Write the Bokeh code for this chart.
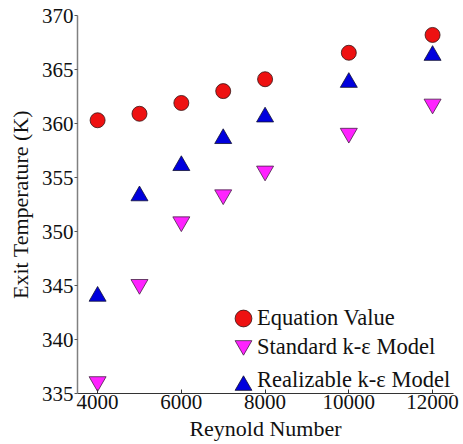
from bokeh.plotting import figure
from bokeh.models import FixedTicker, Legend, LegendItem, Range1d
from bokeh.embed import file_html
from bokeh.resources import INLINE

reynolds = [4000, 5000, 6000, 7000, 8000, 10000, 12000]
equation_value = [360.3, 360.9, 361.9, 363.0, 364.1, 366.55, 368.2]
standard_ke = [336.1, 345.1, 350.9, 353.4, 355.6, 359.1, 361.8]
realizable_ke = [344.0, 353.3, 356.1, 358.6, 360.6, 363.8, 366.3]

x_ticks = [4000, 6000, 8000, 10000, 12000]
y_ticks = [335, 340, 345, 350, 355, 360, 365, 370]
series_labels = ["Equation Value", "Standard k-\u03b5 Model", "Realizable k-\u03b5 Model"]

FONT = "Liberation Serif"

p = figure(width=463, height=444, output_backend="svg", toolbar_location=None,
           x_range=Range1d(3520, 12500), y_range=Range1d(335, 370),
           min_border_left=77, min_border_right=10, min_border_top=15, min_border_bottom=51)
p.outline_line_color = None
p.grid.visible = False
p.background_fill_color = "white"
p.border_fill_color = "white"

r_eq = p.scatter(reynolds, equation_value, marker="circle", size=15,
                 fill_color="#ee1111", line_color="#331111", line_width=0.8)
r_std = p.scatter(reynolds, standard_ke, marker="inverted_triangle", size=17,
                  fill_color="#ff22ff", line_color="#442244", line_width=0.8)
r_rel = p.scatter(reynolds, realizable_ke, marker="triangle", size=17,
                  fill_color="#0000dd", line_color="#111133", line_width=0.8)

xa = p.xaxis[0]
xa.ticker = FixedTicker(ticks=x_ticks)
xa.axis_label = "Reynold Number"
xa.major_tick_in = 4
xa.major_tick_out = 0
xa.minor_tick_line_color = None
xa.major_label_standoff = 1
xa.axis_label_standoff = 4
xa.axis_line_color = "#333333"
xa.major_tick_line_color = "#333333"

ya = p.yaxis[0]
ya.ticker = FixedTicker(ticks=y_ticks)
ya.axis_label = "Exit Temperature (K)"
ya.major_tick_in = 0
ya.major_tick_out = 3
ya.minor_tick_line_color = None
ya.major_label_standoff = 1
ya.axis_label_standoff = 6
ya.axis_line_color = "#808080"
ya.axis_line_width = 1.5
ya.major_tick_line_color = "#555555"

for ax in (xa, ya):
    ax.major_label_text_font = FONT
    ax.major_label_text_font_size = "21px"
    ax.major_label_text_color = "#111111"
    ax.axis_label_text_font = FONT
    ax.axis_label_text_font_size = "22px"
    ax.axis_label_text_font_style = "normal"
    ax.axis_label_text_color = "#111111"


def make_legend(item, loc, glyph_width):
    lg = Legend(items=[item], location=loc)
    lg.glyph_width = glyph_width
    lg.glyph_height = 42
    lg.label_height = 42
    lg.label_standoff = 0
    lg.padding = 0
    lg.margin = 0
    lg.border_line_color = None
    lg.background_fill_alpha = 0
    lg.label_text_font = FONT
    lg.label_text_font_size = "22.5px"
    lg.label_text_color = "#111111"
    return lg


# marker part of each legend row
glyph_rows = [54, 27, -13]
# text part of each legend row
text_rows = [54, 25, -8]
renderers = [r_eq, r_std, r_rel]
for label, rend, gy, ty in zip(series_labels, renderers, glyph_rows, text_rows):
    p.add_layout(make_legend(LegendItem(label="", renderers=[rend]), (145, gy), 42), "center")
    p.add_layout(make_legend(LegendItem(label=label, renderers=[rend]), (180, ty), 0), "center")

open("out.html", "w").write(file_html(p, INLINE))
